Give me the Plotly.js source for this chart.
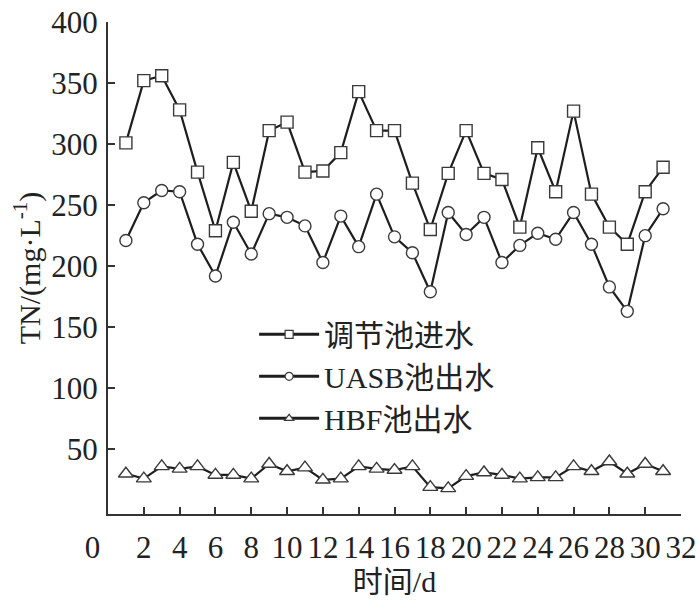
<!DOCTYPE html>
<html>
<head>
<meta charset="utf-8">
<script src="https://cdn.plot.ly/plotly-3.0.1.min.js"></script>
<style>html,body{margin:0;padding:0;background:#fff;}#chart{width:700px;height:602px;}</style>
</head>
<body>
<div id="chart"></div>
<script>
// Day index
const days = [1,2,3,4,5,6,7,8,9,10,11,12,13,14,15,16,17,18,19,20,21,22,23,24,25,26,27,28,29,30,31];
// 调节池进水 TN (mg/L)
const influentTN = [301,352,356,328,277,229,285,245,311,318,277,278,293,343,311,311,268,230,276,311,276,271,232,297,261,327,259,232,218,261,281];
// UASB池出水 TN (mg/L)
const uasbTN = [221,252,262,261,218,192,236,210,243,240,233,203,241,216,259,224,211,179,244,226,240,203,217,227,222,244,218,183,163,225,247];
// HBF池出水 TN (mg/L)
const hbfTN = [30,26,36,34,36,29,29,26,38,32,35,25,26,36,34,33,36,19,18,28,31,29,26,27,27,36,32,40,30,38,32];
const seriesNames = ['调节池进水','UASB池出水','HBF池出水'];
const xTicks = [0,2,4,6,8,10,12,14,16,18,20,22,24,26,28,30,32];
const yTicks = [50,100,150,200,250,300,350,400];

const FONT = "'Liberation Serif', 'Times New Roman', 'Noto Sans CJK SC', serif";
const lineColor = '#1e1e1e';
const markerEdge = '#3a3a3a';

function dataTrace(y, symbol, size){
  return {
    x: days, y: y, type: 'scatter', mode: 'lines+markers', showlegend: false,
    line: {color: lineColor, width: 2.2},
    marker: {symbol: symbol, size: size, color: '#ffffff', line: {color: markerEdge, width: 1.4}}
  };
}
function legendTrace(name, symbol, group){
  return {
    x: [null], y: [null], type: 'scatter', mode: 'lines+markers', name: name, legendgroup: group,
    line: {color: lineColor, width: 3},
    marker: {symbol: symbol, size: 8, color: '#ffffff', line: {color: markerEdge, width: 1.2}}
  };
}

const traces = [
  dataTrace(influentTN, 'square', 12),
  dataTrace(uasbTN, 'circle', 12),
  dataTrace(hbfTN, 'triangle-up', 13),
  legendTrace(seriesNames[0], 'square', 'a'),
  legendTrace(seriesNames[1], 'circle', 'b'),
  legendTrace(seriesNames[2], 'triangle-up', 'c')
];

// the "0" label sits a little left of the axis corner in the original
const xTickText = xTicks.map(v => v === 0 ? '0\u2007\u2007' : String(v));

const layout = {
  width: 700, height: 602,
  margin: {l: 108, r: 19, t: 22, b: 88},
  paper_bgcolor: '#ffffff', plot_bgcolor: '#ffffff',
  font: {family: FONT, size: 30, color: '#222'},
  showlegend: true,
  legend: {
    x: 0.255, y: 0.418, xanchor: 'left', yanchor: 'top',
    bgcolor: 'rgba(0,0,0,0)', borderwidth: 0,
    font: {family: FONT, size: 30, color: '#222'},
    itemwidth: 60, tracegroupgap: 1, traceorder: 'normal'
  },
  xaxis: {
    range: [0, 32], tickvals: xTicks, ticktext: xTickText,
    showgrid: false, zeroline: false, showline: true, linecolor: '#333', linewidth: 2,
    ticks: 'inside', ticklen: 7, tickwidth: 2, tickcolor: '#333',
    tickfont: {family: FONT, size: 31, color: '#222'},
    ticklabelstandoff: 5,
    title: {text: '时间/d', font: {family: FONT, size: 30, color: '#222'}, standoff: 2}
  },
  yaxis: {
    range: [-3, 400], tickvals: yTicks, ticktext: yTicks.map(String),
    showgrid: false, zeroline: false, showline: true, linecolor: '#333', linewidth: 2,
    ticks: 'inside', ticklen: 7, tickwidth: 2, tickcolor: '#333',
    tickfont: {family: FONT, size: 31, color: '#222'},
    ticklabelstandoff: 2,
    title: {text: 'TN/(mg·L<sup>-1</sup>)', font: {family: FONT, size: 30, color: '#222'}, standoff: 2}
  }
};

Plotly.newPlot('chart', traces, layout, {displayModeBar: false, staticPlot: true});
</script>
</body>
</html>
